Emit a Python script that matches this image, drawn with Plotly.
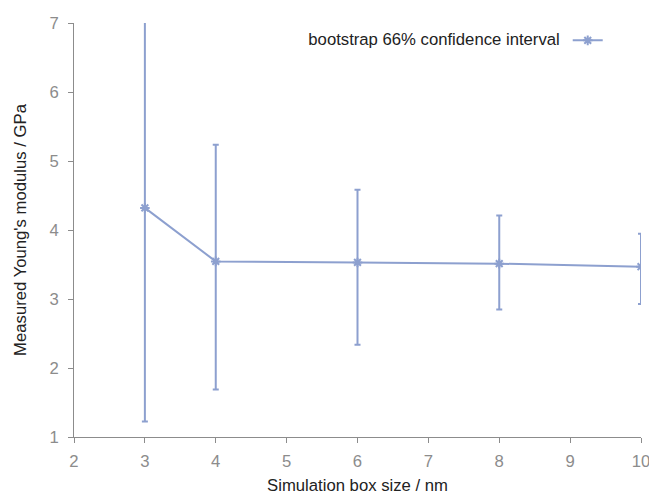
import plotly.graph_objects as go

box_size = [3, 4, 6, 8, 10]
modulus = [4.32, 3.545, 3.53, 3.512, 3.468]
ci_upper = [7.40, 5.236, 4.584, 4.21, 3.946]
ci_lower = [1.226, 1.688, 2.338, 2.849, 2.928]

err_plus = [u - m for u, m in zip(ci_upper, modulus)]
err_minus = [m - l for m, l in zip(modulus, ci_lower)]

color = "#8da0cf"
axis_gray = "#8c8c8c"
fs = 16.7

fig = go.Figure()
fig.add_trace(go.Scatter(
    x=box_size, y=modulus, mode="lines+markers", name=" ",
    line=dict(color=color, width=2),
    marker=dict(symbol="asterisk", size=8, color=color, line=dict(color=color, width=2)),
    error_y=dict(type="data", symmetric=False, array=err_plus, arrayminus=err_minus,
                 color=color, thickness=2, width=3),
))

fig.update_layout(
    width=649, height=495,
    margin=dict(l=74, r=8, t=23, b=58, autoexpand=False),
    paper_bgcolor="white", plot_bgcolor="white",
    font=dict(family="Liberation Sans, Arial, sans-serif", size=fs, color="#222222"),
    showlegend=True,
    legend=dict(
        x=0.96, xanchor="right", y=1.0, yanchor="top",
        orientation="h",
        bgcolor="rgba(0,0,0,0)",
        title=dict(text="bootstrap 66% confidence interval", side="left",
                   font=dict(size=fs, color="#222222")),
        font=dict(size=fs),
    ),
    xaxis=dict(
        range=[2, 10], dtick=1, tick0=2,
        showgrid=False, zeroline=False, automargin=False,
        showline=True, linecolor=axis_gray, linewidth=1,
        ticks="outside", ticklen=5, tickcolor=axis_gray,
        ticklabelstandoff=4, ticklabeloverflow="allow",
        tickfont=dict(size=fs, color=axis_gray),
        title=dict(text="Simulation box size / nm", font=dict(size=fs, color="#222222"), standoff=14),
    ),
    yaxis=dict(
        range=[1, 7], dtick=1, tick0=1,
        showgrid=False, zeroline=False, automargin=False,
        showline=True, linecolor=axis_gray, linewidth=1,
        ticks="outside", ticklen=5, tickcolor=axis_gray,
        ticklabelstandoff=6, ticklabeloverflow="allow",
        tickfont=dict(size=fs, color=axis_gray),
        title=dict(text="Measured Young's modulus / GPa", font=dict(size=fs, color="#222222"), standoff=18),
    ),
)

fig.write_html("out.html", config={"displayModeBar": False},
               post_script="document.body.style.margin='0';")
